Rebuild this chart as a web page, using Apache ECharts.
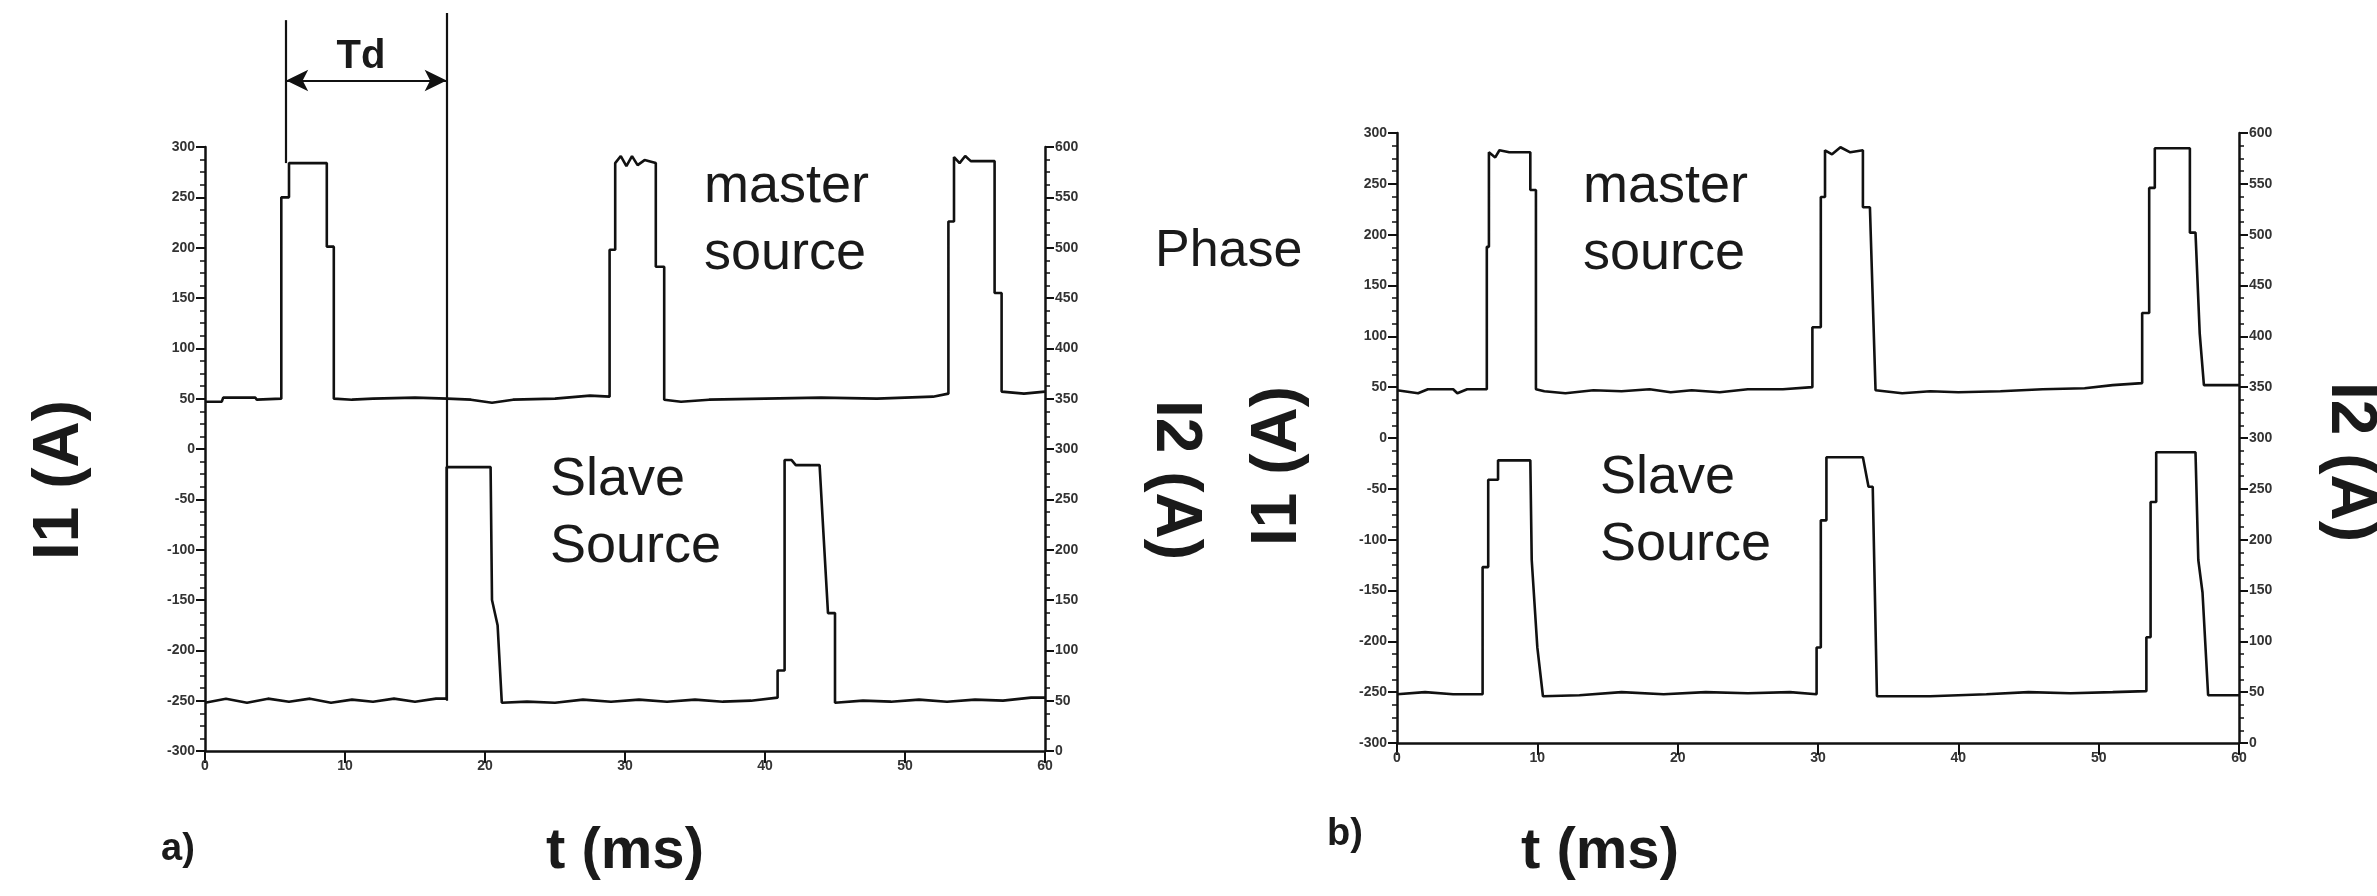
<!DOCTYPE html>
<html><head><meta charset="utf-8">
<script src="https://cdn.jsdelivr.net/npm/echarts@6/dist/echarts.min.js"></script>
<style>html,body{margin:0;padding:0;background:#fff}#c{width:2377px;height:896px}</style>
</head><body><div id="c"></div>
<script>
// ---- axis ranges (ms, A) ----
const timeRange = [0, 60];
const timeStep = 10;
const i1Range = [-300, 300];
const i2Range = [0, 600];
const currentStep = 50;

// ---- traces: [t (ms), I (A) on the I1 scale] ----
const masterA = [[0,47],[1.2,47],[1.3,51],[3.6,51],[3.7,49],[5.45,50],[5.45,250],[6.0,250],[6.0,284],[8.7,284],[8.7,201],[9.2,201],[9.2,50],[10.5,49],[12,50],[15,51],[17.3,50],[19,49],[20.5,46],[22,49],[25,50],[27.5,53],[28.9,52],[28.9,198],[29.3,198],[29.3,284],[29.7,291],[30.1,281],[30.5,291],[30.9,282],[31.4,287],[32.2,284],[32.2,181],[32.8,181],[32.8,49],[34,47],[36,49],[40,50],[44,51],[48,50],[52,52],[53.1,55],[53.1,226],[53.5,226],[53.5,290],[53.9,284],[54.3,291],[54.7,286],[56.4,286],[56.4,155],[56.9,155],[56.9,57],[58.5,55],[60,57]];
const slaveA = [[0,-252],[1.5,-248],[3,-252],[4.5,-248],[6,-251],[7.5,-248],[9,-252],[10.5,-249],[12,-251],[13.5,-248],[15,-251],[16.5,-248],[17.26,-248],[17.26,-18],[20.4,-18],[20.5,-150],[20.9,-175],[21.2,-252],[23,-251],[25,-252],[27,-249],[29,-251],[31,-249],[33,-251],[35,-249],[37,-251],[39,-250],[40.9,-247],[40.9,-220],[41.4,-220],[41.4,-11],[41.9,-11],[42.2,-16],[43.9,-16],[44.2,-90],[44.5,-163],[45.0,-163],[45.0,-252],[47,-250],[49,-251],[51,-249],[53,-251],[55,-249],[57,-250],[59,-247],[60,-247]];
const masterB = [[0,47],[1.5,44],[2.2,48],[4,48],[4.3,44],[5,48],[6.4,48],[6.4,188],[6.55,188],[6.55,281],[7,276],[7.3,283],[8,281],[9.5,281],[9.5,244],[9.9,244],[9.9,48],[10.5,46],[12,44],[14,47],[16,46],[18,48],[19.5,45],[21,47],[23,45],[25,48],[27.5,48],[29.6,50],[29.6,109],[30.2,109],[30.2,237],[30.5,237],[30.5,283],[31,279],[31.6,286],[32.3,281],[33.2,283],[33.2,227],[33.7,227],[34.1,47],[36,44],[38,46],[40,45],[43,46],[46,48],[49,49],[51,52],[53.1,54],[53.1,123],[53.6,123],[53.6,246],[54.0,246],[54.0,285],[56.5,285],[56.5,202],[56.9,202],[57.2,103],[57.5,52],[60,52]];
const slaveB = [[0,-252],[2,-250],[4,-252],[6.1,-252],[6.1,-127],[6.5,-127],[6.5,-41],[7.2,-41],[7.2,-22],[9.5,-22],[9.6,-120],[10.0,-206],[10.4,-254],[13,-253],[16,-250],[19,-252],[22,-250],[25,-251],[28,-250],[29.9,-252],[29.9,-206],[30.2,-206],[30.2,-81],[30.6,-81],[30.6,-19],[33.2,-19],[33.6,-48],[33.9,-48],[34.2,-254],[38,-254],[42,-252],[45,-250],[48,-251],[51,-250],[53.4,-249],[53.4,-196],[53.7,-196],[53.7,-63],[54.1,-63],[54.1,-14],[56.9,-14],[57.1,-120],[57.4,-152],[57.8,-253],[60,-253]];

// ---- Td annotation (ms, A) ----
const tdStart = 5.8;
const tdEnd = 17.26;
const tdArrowLevel = 366;
const tdTopA = 426, tdTopB = 433, tdBottomStart = 284, tdBottomEnd = -250;
const overlayRange = [-300, 446];

const ink = '#111';
const labelFont = {color:'#333', fontSize:14, fontWeight:'bold', fontFamily:'Liberation Sans'};

function xAx(grid, show){
  return {type:'value', gridIndex:grid, min:timeRange[0], max:timeRange[1], interval:timeStep, show:show,
    axisLine:{show:true,onZero:false,lineStyle:{color:ink,width:2.5}},
    axisTick:{show:true,inside:false,length:12,lineStyle:{color:ink,width:2}},
    axisLabel:Object.assign({margin:8},labelFont),
    splitLine:{show:false}};
}
function yAx(grid, range, pos){
  return {type:'value', gridIndex:grid, position:pos, min:range[0], max:range[1], interval:currentStep,
    axisLine:{show:true,onZero:false,lineStyle:{color:ink,width:2.5}},
    axisTick:{show:true,inside:false,length:9,lineStyle:{color:ink,width:2}},
    minorTick:{show:true,splitNumber:4,length:5,lineStyle:{color:ink,width:1.5}},
    axisLabel:Object.assign({margin:10},labelFont),
    splitLine:{show:false}};
}
function trace(data, xi, yi){
  return {type:'line', data:data, xAxisIndex:xi, yAxisIndex:yi, showSymbol:false, symbol:'none',
    lineStyle:{color:ink,width:2.6}, clip:false, silent:true};
}
function txt(x,y,text,size,opts){
  return Object.assign({type:'text', x:x, y:y, style:{text:text, font:(opts&&opts.weight||'normal')+' '+size+'px "Liberation Sans"', fill:(opts&&opts.fill)||'#1a1a1a', textAlign:(opts&&opts.align)||'left', textVerticalAlign:'middle', verticalAlign:'middle'}}, opts&&opts.rot!==undefined?{rotation:opts.rot}:{});
}

const chart = echarts.init(document.getElementById('c'), null, {renderer:'canvas'});
chart.setOption({
  animation:false,
  backgroundColor:'#fff',
  grid:[
    {left:205, top:147, width:840, height:604},
    {left:1397, top:133, width:842, height:610},
    {left:205, top:0, width:840, height:751}
  ],
  xAxis:[xAx(0,true), xAx(1,true), Object.assign(xAx(2,false),{show:false})],
  yAxis:[
    yAx(0,i1Range,'left'), yAx(0,i2Range,'right'),
    yAx(1,i1Range,'left'), yAx(1,i2Range,'right'),
    {type:'value', gridIndex:2, min:overlayRange[0], max:overlayRange[1], show:false}
  ],
  series:[
    trace(masterA,0,0), trace(slaveA,0,0),
    trace(masterB,1,2), trace(slaveB,1,2),
    {type:'line', xAxisIndex:2, yAxisIndex:4, data:[], silent:true,
      markLine:{silent:true, symbol:['none','none'], label:{show:false},
        lineStyle:{color:ink,width:2.2,type:'solid'},
        data:[
          [{coord:[tdStart,tdTopA]},{coord:[tdStart,tdBottomStart]}],
          [{coord:[tdEnd,tdTopB]},{coord:[tdEnd,tdBottomEnd]}],
          [{coord:[tdStart,tdArrowLevel],symbol:'arrow',symbolSize:[16,22]},{coord:[tdEnd,tdArrowLevel],symbol:'arrow',symbolSize:[16,22]}]
        ]}}
  ],
  graphic:[
    txt(361,57,'Td',40,{weight:'bold',align:'center'}),
    txt(704,187,'master',54), txt(704,254,'source',54),
    txt(550,480,'Slave',54), txt(550,547,'Source',54),
    txt(1583,187,'master',54), txt(1583,254,'source',54),
    txt(1600,478,'Slave',54), txt(1600,545,'Source',54),
    txt(1155,252,'Phase',52),
    txt(60,480,'I1 (A)',64,{weight:'bold',align:'center',rot:Math.PI/2}),
    txt(1175,480,'I2 (A)',64,{weight:'bold',align:'center',rot:-Math.PI/2}),
    txt(1278,466,'I1 (A)',64,{weight:'bold',align:'center',rot:Math.PI/2}),
    txt(2350,462,'I2 (A)',64,{weight:'bold',align:'center',rot:-Math.PI/2}),
    txt(625,852,'t (ms)',58,{weight:'bold',align:'center'}),
    txt(1600,852,'t (ms)',58,{weight:'bold',align:'center'}),
    txt(178,850,'a)',38,{weight:'bold',align:'center'}),
    txt(1345,835,'b)',38,{weight:'bold',align:'center'})
  ]
});
</script></body></html>
